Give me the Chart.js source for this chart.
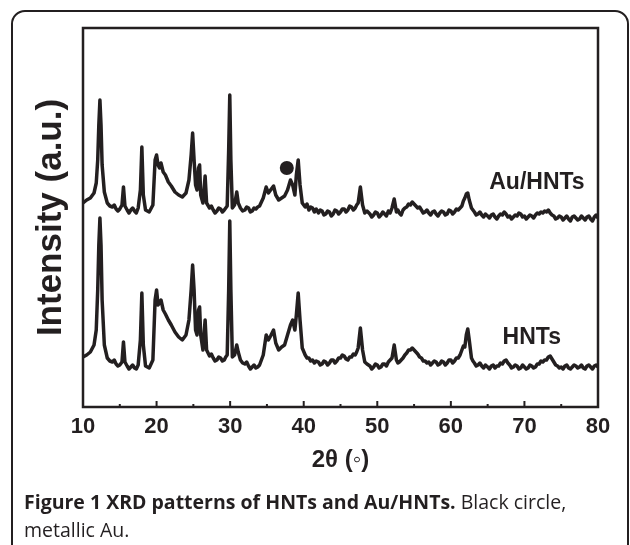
<!DOCTYPE html>
<html><head><meta charset="utf-8">
<script src="https://cdn.jsdelivr.net/npm/chart.js@4/dist/chart.umd.min.js"></script>
<style>
html,body{margin:0;padding:0;background:#fff;}
#wrap{position:relative;width:630px;height:545px;overflow:hidden;background:#fff;}
#frame{position:absolute;left:11px;top:10px;width:618px;height:570px;border:2px solid #231f20;border-radius:14px;box-sizing:border-box;}
#c{position:absolute;left:0;top:0;}
#cap{position:absolute;left:24px;top:488px;font-family:"Open Sans",sans-serif;font-size:19.5px;line-height:28px;color:#231f20;white-space:nowrap;}
#cap b{font-weight:700;}
</style></head>
<body>
<div id="wrap">
<div id="frame"></div>
<canvas id="c" width="630" height="545"></canvas>
<div id="cap"><b>Figure 1 XRD patterns of HNTs and Au/HNTs.</b> Black circle,<br>metallic Au.</div>
</div>
<script>
// 2θ (degrees) and intensity (a.u., arbitrary offset units)
const auHnts = [
[10,204],[10.5,207],[11,209],[11.5,214],[11.8,224],[12.0,247],[12.15,282],[12.3,307],[12.45,282],[12.6,242],[12.9,215],[13.3,204],
[13.65,201],[14,200],[14.25,202],[14.5,198],[14.75,196],[15,198],[15.3,202],[15.5,220],[15.7,201],[16,197],[16.25,194],[16.5,197],
[16.75,199],[17,196],[17.25,194],[17.5,199],[17.8,217],[18.0,260],[18.2,212],
[18.5,197],[19,195],[19.5,202],[19.8,247],[20.0,252],[20.2,242],[20.4,239],[20.6,244],[20.9,235],[21.2,232],[21.6,225],[22,221],
[22.5,215],[23,212],[23.5,210],[24,214],[24.4,227],[24.7,252],[24.9,274],[25.1,247],[25.3,222],[25.5,217],[25.7,239],[25.85,242],
[26,212],[26.3,204],[26.6,231],[26.8,204],[27.2,199],[27.45,201],[27.7,197],[27.95,194],[28.2,196],[28.45,199],[28.7,198],
[28.95,195],[29.2,197],[29.4,199],[29.6,201],[29.8,257],[29.95,312],
[30.1,247],[30.3,199],[30.6,202],[30.9,215],[31.1,204],[31.4,199],[31.7,196],[32,197],[32.25,200],[32.5,199],[32.75,195],[33,196],
[33.25,199],[33.5,198],[33.75,200],[34,201],[34.5,209],
[34.9,220],[35.2,214],[35.5,217],[35.9,221],[36.2,212],[36.6,207],[37,209],[37.4,211],[37.8,217],[38.2,227],[38.5,222],[38.8,212],
[39.0,232],[39.25,247],[39.5,222],[39.8,204],
[40.2,200],[40.45,203],[40.7,197],[40.95,200],[41.2,199],[41.45,195],[41.7,198],[42,194],[42.25,197],[42.5,196],[42.75,192],[43,193],
[43.25,196],[43.5,195],[43.75,191],[44,193],[44.25,197],[44.5,196],[44.75,193],[45,195],[45.25,198],[45.5,198],[45.75,195],[46,197],
[46.25,201],[46.5,200],[46.75,197],[47,199],[47.2,202],[47.4,204],[47.7,220],[48.0,202],[48.3,194],[48.6,196],[49,193],[49.25,190],
[49.5,192],[49.75,195],[50,194],[50.25,190],[50.5,192],[50.75,195],[51,193],[51.25,191],[51.5,196],[51.75,194],[52,199],[52.3,208],
[52.6,195],[52.8,197],[53,194],[53.25,192],[53.5,197],[53.75,199],[54,200],[54.25,203],[54.5,202],[54.75,205],[55,203],[55.25,201],
[55.5,199],[55.75,200],[56,197],[56.25,194],[56.5,195],[56.75,197],[57,194],[57.25,192],[57.5,195],[57.75,196],[58,193],[58.25,191],
[58.5,194],[58.75,196],[59,195],[59.25,192],[59.5,193],[59.75,197],[60,196],[60.25,193],[60.5,195],[60.75,198],[61,197],[61.25,199],
[61.5,201],[61.7,206],[61.9,209],[62.1,213],[62.3,214],[62.5,207],[62.8,199],[63,197],[63.2,195],[63.45,192],[63.7,193],[63.95,195],
[64.2,192],[64.45,190],[64.7,193],[65,191],[65.25,189],[65.5,192],[65.75,193],[66,190],[66.25,188],[66.5,191],[66.75,193],[67,192],
[67.25,195],[67.5,193],[67.75,190],[68,191],[68.25,188],[68.5,190],[68.75,192],[69,191],[69.25,194],[69.5,193],[69.75,190],[70,191],
[70.25,188],[70.5,190],[70.75,192],[71,191],[71.25,189],[71.5,192],[71.75,194],[72,193],[72.25,195],[72.5,194],[72.75,196],[73,195],
[73.25,197],[73.5,194],[73.75,192],[74,191],[74.25,188],[74.5,189],[74.75,191],[75,190],[75.25,187],[75.5,189],[75.75,191],[76,188],
[76.25,186],[76.5,190],[76.75,191],[77,189],[77.25,187],[77.5,188],[77.75,191],[78,189],[78.25,187],[78.5,190],[78.75,191],[79,188],
[79.25,186],[79.5,190],[79.75,192],[80,189]
];
const hnts = [
[10,50],[10.5,52],[11,55],[11.5,62],[11.8,77],[12.0,117],[12.15,162],[12.3,189],[12.45,162],[12.6,107],[12.9,62],[13.3,49],
[13.65,46],[14,45],[14.25,47],[14.5,43],[14.75,41],[15,42],[15.3,45],[15.5,65],[15.7,45],[16,41],[16.25,38],[16.5,40],[16.75,42],
[17,39],[17.25,38],[17.5,42],[17.8,67],[18.0,114],[18.2,62],
[18.5,41],[19,39],[19.5,47],[19.8,107],[20.0,117],[20.2,102],[20.4,104],[20.6,107],[20.9,97],[21.2,93],[21.6,87],[22,82],
[22.5,75],[23,70],[23.5,67],[24,72],[24.4,87],[24.7,117],[24.9,142],[25.1,117],[25.3,77],[25.5,72],[25.7,97],[25.85,100],
[26,72],[26.3,57],[26.6,87],[26.8,57],[27.2,51],[27.45,53],[27.7,49],[27.95,46],[28.2,47],[28.45,50],[28.7,49],[28.95,46],
[29.2,47],[29.4,50],[29.6,52],[29.8,117],[29.95,186],
[30.1,117],[30.3,50],[30.6,52],[30.9,62],[31.1,55],[31.4,47],[31.7,44],[32,43],[32.25,45],[32.5,41],[32.75,38],[33,40],[33.25,42],
[33.5,39],[33.75,40],[34,42],[34.5,52],
[34.9,72],[35.2,67],[35.5,71],[35.9,77],[36.2,64],[36.6,57],[37,60],[37.4,62],[37.8,72],[38.2,82],[38.5,87],[38.8,77],
[39.0,92],[39.25,114],[39.5,87],[39.8,59],
[40.2,52],[40.45,49],[40.7,49],[40.95,46],[41.2,47],[41.45,44],[41.7,46],[42,45],[42.25,42],[42.5,43],[42.75,46],[43,45],[43.25,42],
[43.5,44],[43.75,47],[44,47],[44.25,44],[44.5,46],[44.75,49],[45,49],[45.25,52],[45.5,51],[45.75,48],[46,47],[46.25,50],[46.5,50],
[46.75,53],[47,52],[47.2,55],[47.4,59],[47.7,79],[48.0,57],[48.3,45],[48.6,43],[49,41],[49.25,38],[49.5,40],[49.75,43],[50,42],
[50.25,39],[50.5,40],[50.75,43],[51,43],[51.25,41],[51.5,45],[51.75,47],[52,49],[52.3,62],[52.6,47],[52.8,44],[53,45],[53.25,47],
[53.5,49],[53.75,52],[54,54],[54.25,57],[54.5,57],[54.75,59],[55,57],[55.25,55],[55.5,53],[55.75,50],[56,49],[56.25,46],[56.5,46],
[56.75,44],[57,45],[57.25,42],[57.5,44],[57.75,46],[58,45],[58.25,42],[58.5,43],[58.75,46],[59,45],[59.25,42],[59.5,44],[59.75,47],
[60,47],[60.25,44],[60.5,46],[60.75,49],[61,49],[61.25,52],[61.5,57],[61.7,61],[61.9,60],[62.1,72],[62.3,78],[62.5,67],[62.8,49],
[63,46],[63.2,44],[63.45,41],[63.7,42],[63.95,44],[64.2,41],[64.45,39],[64.7,42],[65,40],[65.25,38],[65.5,41],[65.75,42],[66,39],
[66.25,41],[66.5,41],[66.75,44],[67,43],[67.25,46],[67.5,47],[67.75,44],[68,42],[68.25,39],[68.5,40],[68.75,42],[69,41],[69.25,38],
[69.5,39],[69.75,42],[70,40],[70.25,38],[70.5,39],[70.75,42],[71,41],[71.25,39],[71.5,40],[71.75,43],[72,43],[72.25,46],[72.5,45],
[72.75,47],[73,47],[73.25,50],[73.5,51],[73.75,48],[74,45],[74.25,42],[74.5,41],[74.75,39],[75,40],[75.25,38],[75.5,41],[75.75,42],
[76,39],[76.25,38],[76.5,40],[76.75,42],[77,41],[77.25,39],[77.5,40],[77.75,42],[78,39],[78.25,38],[78.5,41],[78.75,42],[79,40],
[79.25,38],[79.5,41],[79.75,42],[80,40]
];
const auMarker = [[37.7,239]];
const xTicks = [10,20,30,40,50,60,70,80];
const xMinorTicks = [15,25,35,45,55,65,75];
const seriesLabels = [
  {text:'Au/HNTs', x:71.7, y:224},
  {text:'HNTs', x:71.0, y:69}
];

const INK = '#231f20';
const FONT = '"Liberation Sans", Arial, Helvetica, sans-serif';
const toXY = arr => arr.map(p => ({x:p[0], y:p[1]}));

const decor = {
  id:'decor',
  afterDatasetsDraw(chart){
    const {ctx, chartArea:a, scales:{x, y}} = chart;
    ctx.save();
    ctx.strokeStyle = INK;
    ctx.lineWidth = 2.5;
    ctx.strokeRect(a.left, a.top, a.right - a.left, a.bottom - a.top);
    ctx.lineWidth = 2;
    xTicks.forEach(v => {
      const px = x.getPixelForValue(v);
      ctx.beginPath(); ctx.moveTo(px, a.bottom); ctx.lineTo(px, a.bottom - 6); ctx.stroke();
    });
    xMinorTicks.forEach(v => {
      const px = x.getPixelForValue(v);
      ctx.beginPath(); ctx.moveTo(px, a.bottom); ctx.lineTo(px, a.bottom - 3); ctx.stroke();
    });
    ctx.fillStyle = INK;
    ctx.font = 'bold 23px ' + FONT;
    ctx.textAlign = 'center';
    ctx.textBaseline = 'middle';
    seriesLabels.forEach(l => {
      ctx.fillText(l.text, x.getPixelForValue(l.x), y.getPixelForValue(l.y));
    });
    ctx.restore();
  }
};

new Chart(document.getElementById('c'), {
  type:'line',
  data:{
    datasets:[
      {label:'Au/HNTs', data:toXY(auHnts), borderColor:INK, borderWidth:3.5, pointRadius:0, tension:0, borderJoinStyle:'round', fill:false},
      {label:'HNTs', data:toXY(hnts), borderColor:INK, borderWidth:3.5, pointRadius:0, tension:0, borderJoinStyle:'round', fill:false},
      {label:'Au', data:toXY(auMarker), showLine:false, pointRadius:7, pointBackgroundColor:INK, pointBorderColor:INK, pointBorderWidth:0}
    ]
  },
  options:{
    responsive:false,
    animation:false,
    devicePixelRatio:1,
    layout:{padding:{left:20, top:28, right:32, bottom:70.6}},
    plugins:{legend:{display:false}, tooltip:{enabled:false}},
    scales:{
      x:{
        type:'linear', min:10, max:80,
        grid:{display:false, drawTicks:false},
        border:{display:false},
        afterBuildTicks: s => { s.ticks = xTicks.map(v => ({value:v})); },
        afterFit: s => { s.height = 67.4; },
        ticks:{padding:7, color:INK, font:{family:FONT, size:22, weight:'bold'}, maxRotation:0},
        title:{display:true, text:'2θ (◦)', color:INK, padding:{top:0, bottom:0}, font:{family:FONT, size:24, weight:'bold'}}
      },
      y:{
        type:'linear', min:0, max:379,
        grid:{display:false, drawTicks:false},
        border:{display:false},
        ticks:{display:false},
        afterFit: s => { s.width = 63; },
        title:{display:true, text:'Intensity (a.u.)', color:INK, padding:{top:10, bottom:0}, font:{family:FONT, size:35, weight:'bold'}}
      }
    }
  },
  plugins:[decor]
});
</script>
</body></html>
